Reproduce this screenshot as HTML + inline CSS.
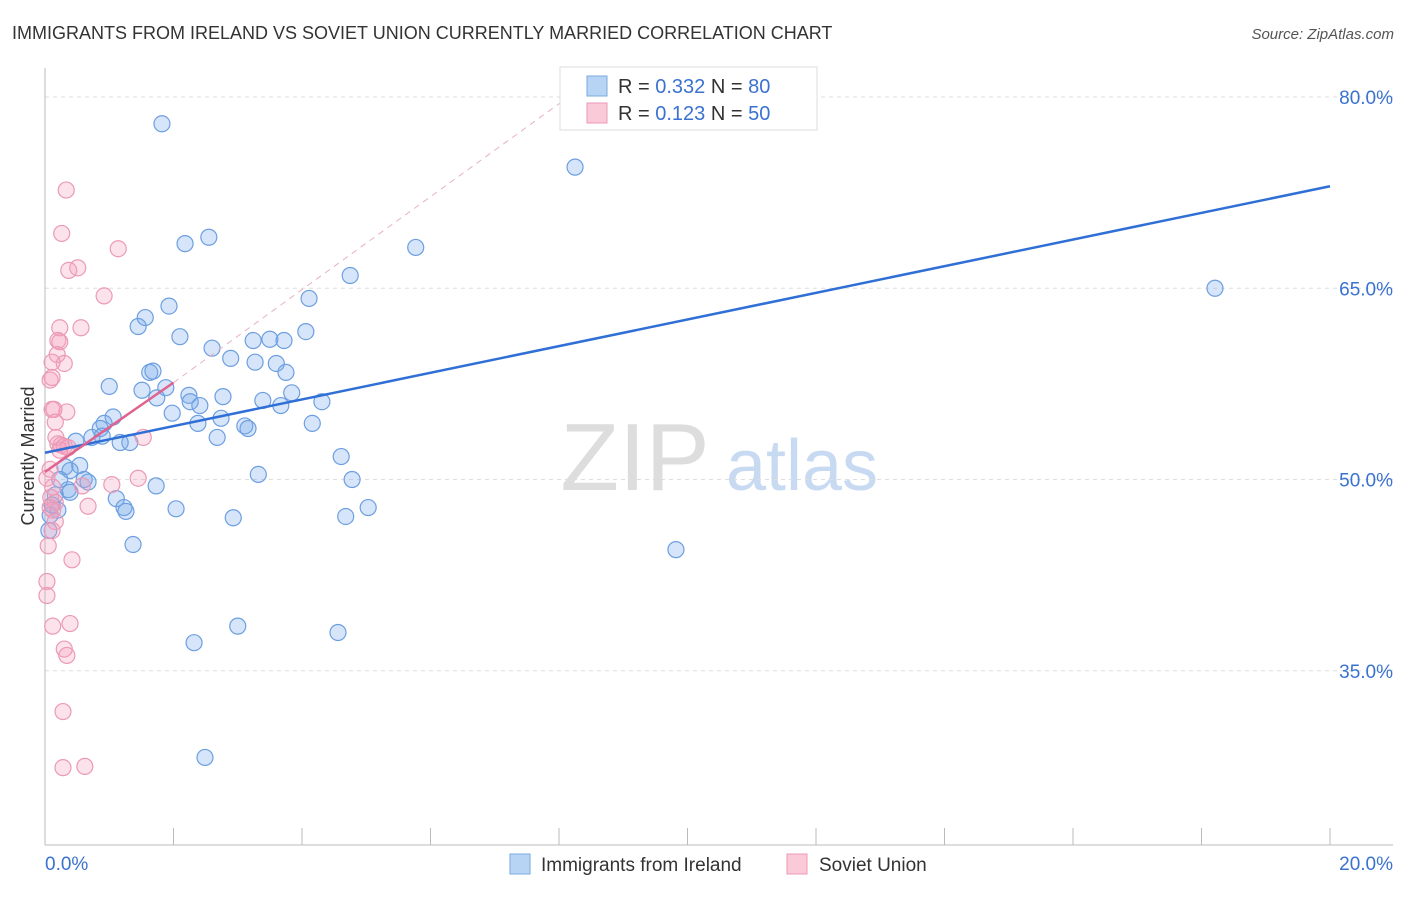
<!DOCTYPE html>
<html><head><meta charset="utf-8"><style>
body{margin:0;background:#fff;font-family:"Liberation Sans",sans-serif}
svg text{font-family:"Liberation Sans",sans-serif}
</style></head><body>
<svg id="chart" width="1406" height="892" xmlns="http://www.w3.org/2000/svg">
<text x="12" y="39" font-size="18" fill="#333">IMMIGRANTS FROM IRELAND VS SOVIET UNION CURRENTLY MARRIED CORRELATION CHART</text>
<text x="1394" y="39" font-size="15" fill="#555" text-anchor="end" font-style="italic">Source: ZipAtlas.com</text>
<g>
<text x="635" y="490" font-size="96" fill="#ddd" text-anchor="middle" font-family="Liberation Serif,serif">ZIP</text>
<text x="802" y="490" font-size="72" fill="#c8daf2" text-anchor="middle">atlas</text>
</g>
<g id="grid"></g><g id="axes"></g><g id="marks"></g>
<text transform="translate(34,456) rotate(-90)" font-size="18" fill="#333" text-anchor="middle">Currently Married</text>
<g>
<rect x="560" y="67" width="257" height="63" fill="#fff" stroke="#ddd"/>
<rect x="587" y="76" width="20" height="20" fill="#b8d4f5" stroke="#7aa8e0"/>
<rect x="587" y="103" width="20" height="20" fill="#fbcad9" stroke="#eb9ab6"/>
<text x="618" y="93" font-size="20" fill="#333">R = <tspan fill="#3a72d0">0.332</tspan>   N = <tspan fill="#3a72d0">80</tspan></text>
<text x="618" y="120" font-size="20" fill="#333">R =  <tspan fill="#3a72d0">0.123</tspan>   N = <tspan fill="#3a72d0">50</tspan></text>
</g>
<g>
<rect x="510" y="854" width="20" height="20" fill="#b8d4f5" stroke="#7aa8e0"/>
<text x="541" y="871" font-size="19" fill="#333">Immigrants from Ireland</text>
<rect x="787" y="854" width="20" height="20" fill="#fbcad9" stroke="#eb9ab6"/>
<text x="819" y="871" font-size="19" fill="#333">Soviet Union</text>
</g>
</svg>
<script>
const yTicks=[35,50,65,80];
const yTickLabels=["35.0%","50.0%","65.0%","80.0%"];
const xTicks=[0,2,4,6,8,10,12,14,16,18,20];
const blueX=[1.82,8.25,2.18,2.55,5.77,18.21,4.75,1.93,4.11,1.56,1.45,2.10,4.06,2.60,3.24,3.50,3.72,2.89,3.27,3.60,3.75,1.63,1.68,1.00,1.51,1.88,1.74,2.24,2.77,3.84,2.26,2.41,3.39,3.67,4.31,1.98,1.06,2.74,2.38,3.11,3.16,4.16,0.92,0.86,0.73,0.89,0.48,1.32,1.17,2.68,4.61,0.31,0.54,0.39,0.61,0.67,3.32,4.78,1.73,0.36,1.11,1.23,1.26,2.04,5.03,4.68,2.93,1.37,9.82,3.00,4.56,2.32,2.49,0.06,0.08,0.16,0.23,0.11,0.39,0.20];
const blueY=[77.9,74.5,68.5,69.0,68.2,65.0,66.0,63.6,64.2,62.7,62.0,61.2,61.6,60.3,60.9,61.0,60.9,59.5,59.2,59.1,58.4,58.4,58.5,57.3,57.0,57.2,56.4,56.6,56.5,56.8,56.1,55.8,56.2,55.8,56.1,55.2,54.9,54.8,54.4,54.2,54.0,54.4,54.4,54.0,53.3,53.4,53.0,52.9,52.9,53.3,51.8,51.0,51.1,50.7,50.0,49.8,50.4,50.0,49.5,49.2,48.5,47.8,47.5,47.7,47.8,47.1,47.0,44.9,44.5,38.5,38.0,37.2,28.2,46.0,47.2,48.8,50.0,48.0,49.0,47.6];
const pinkX=[0.33,0.26,1.14,0.51,0.37,0.92,0.56,0.23,0.20,0.23,0.19,0.30,0.11,0.11,0.08,0.11,0.34,0.14,0.16,0.17,0.20,0.25,0.30,0.36,1.53,1.45,1.04,0.58,0.12,0.09,0.16,0.67,0.08,0.12,0.16,0.05,0.42,0.03,0.03,0.12,0.39,0.30,0.34,0.28,0.28,0.62,0.08,0.03,0.23,0.11];
const pinkY=[72.7,69.3,68.1,66.6,66.4,64.4,61.9,61.9,60.9,60.8,59.8,59.1,59.2,58.0,57.8,55.5,55.3,55.5,54.5,53.3,52.8,52.7,52.6,52.5,53.3,50.1,49.6,49.5,49.4,48.6,48.2,47.9,47.8,47.6,46.7,44.8,43.7,42.0,40.9,38.5,38.7,36.7,36.2,31.8,27.4,27.5,50.8,50.1,52.3,46.0];
const blueTrend=[[0,52.1],[20,73.0]];
const pinkTrend=[[0,50.6],[2.0,57.6]];
const pinkDash=[[2.0,57.6],[8.2,80.2]];

const NS="http://www.w3.org/2000/svg";
const X=v=>45+v*64.25, Y=v=>97+(80-v)*12.75;
function mk(tag,attrs,parent){const e=document.createElementNS(NS,tag);for(const k in attrs)e.setAttribute(k,attrs[k]);parent.appendChild(e);return e;}
const grid=document.getElementById('grid'),axes=document.getElementById('axes'),marks=document.getElementById('marks');
yTicks.forEach((t,i)=>{
 const l=mk('line',{x1:45,x2:1393,y1:Y(t),y2:Y(t),stroke:'#ddd','stroke-dasharray':'4,4'},grid);
 
 
 const tx=mk('text',{x:1393,y:Y(t)+7,'font-size':19,fill:'#3a72d0','text-anchor':'end'},axes);
 tx.textContent=yTickLabels[i];
 
 
});
mk('line',{x1:45,x2:1393,y1:845,y2:845,stroke:'#bbb'},axes);
mk('line',{x1:45,x2:45,y1:68,y2:845,stroke:'#bbb'},axes);
xTicks.forEach(t=>{
 const l=mk('line',{x1:X(t),x2:X(t),y1:828,y2:845,stroke:'#bbb'},axes);
 
 
});
const x0=mk('text',{x:45,y:870,'font-size':19,fill:'#3a72d0'},axes);x0.textContent='0.0%';


const x1=mk('text',{x:1393,y:870,'font-size':19,fill:'#3a72d0','text-anchor':'end'},axes);x1.textContent='20.0%';


blueX.forEach((v,i)=>{
 const c=mk('circle',{cx:X(v),cy:Y(blueY[i]),r:8,fill:'rgba(120,170,235,0.3)',stroke:'#6d9fe0','stroke-width':1.2},marks);
 
 
});
pinkX.forEach((v,i)=>{
 const c=mk('circle',{cx:X(v),cy:Y(pinkY[i]),r:8,fill:'rgba(245,160,190,0.3)',stroke:'#eb9ab6','stroke-width':1.2},marks);
 
 
});
const pd=mk('line',{x1:X(pinkDash[0][0]),y1:Y(pinkDash[0][1]),x2:X(pinkDash[1][0]),y2:Y(pinkDash[1][1]),stroke:'#e8b0c4','stroke-width':1,'stroke-dasharray':'6,5'},marks);


const bt=mk('line',{x1:X(blueTrend[0][0]),y1:Y(blueTrend[0][1]),x2:X(blueTrend[1][0]),y2:Y(blueTrend[1][1]),stroke:'#2f6fd6','stroke-width':2.5},marks);


const pt=mk('line',{x1:X(pinkTrend[0][0]),y1:Y(pinkTrend[0][1]),x2:X(pinkTrend[1][0]),y2:Y(pinkTrend[1][1]),stroke:'#e0628e','stroke-width':2.5},marks);


</script>
</body></html>
